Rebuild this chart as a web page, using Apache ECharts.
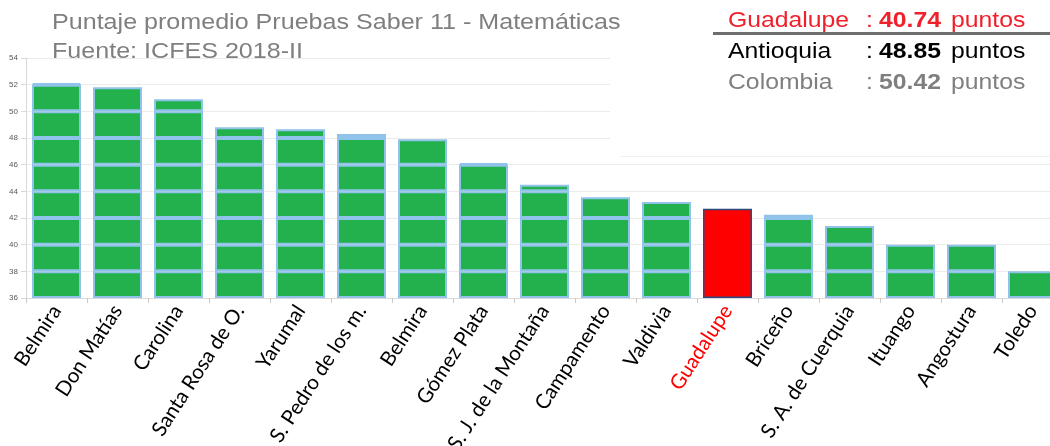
<!DOCTYPE html>
<html>
<head>
<meta charset="utf-8">
<script src="https://cdn.jsdelivr.net/npm/echarts@6/dist/echarts.min.js"></script>
<style>
  html, body { margin: 0; padding: 0; background: #fff; }
  #chart { width: 1050px; height: 446px; }
</style>
</head>
<body>
<div id="chart"></div>
<script>
// Municipalities ordered by average math score
const categories = ['Belmira', 'Don Matías', 'Carolina', 'Santa Rosa de O.', 'Yarumal',
  'S. Pedro de los m.', 'Belmira', 'Gómez Plata', 'S. J. de la Montaña', 'Campamento',
  'Valdivia', 'Guadalupe', 'Briceño', 'S. A. de Cuerquia', 'Ituango', 'Angostura', 'Toledo'];
const scores = [52.1, 51.8, 50.9, 48.8, 48.65, 48.3, 47.9, 46.1, 44.5, 43.55,
  43.2, 42.7, 42.25, 41.4, 40.0, 40.0, 38.0];
const highlightName = 'Guadalupe';

// Value axis ticks
const yTicks = [36, 38, 40, 42, 44, 46, 48, 50, 52, 54];

// Summary box
const titleLines = ['Puntaje promedio Pruebas Saber 11 - Matemáticas', 'Fuente: ICFES 2018-II'];
const summaryNames = ['Guadalupe', 'Antioquia', 'Colombia'];
const summaryScores = ['40.74', '48.85', '50.42'];
const summaryUnit = 'puntos';

const AXIS_MIN = yTicks[0];
const AXIS_MAX = yTicks[yTicks.length - 1];
const STEP = yTicks[1] - yTicks[0];
const hiIndex = categories.indexOf(highlightName);

const GREEN = '#22b14c';
const EDGE = '#8fc3ea';
const RED = '#ff0000';

// Each bar is built from blocks of one tick step, stacked on the axis floor
const series = [{
  type: 'bar', stack: 'score', silent: true,
  itemStyle: { color: 'rgba(0,0,0,0)' },
  data: scores.map(() => AXIS_MIN)
}];
const blockCount = (AXIS_MAX - AXIS_MIN) / STEP;
for (let k = 0; k < blockCount; k++) {
  const lo = AXIS_MIN + k * STEP;
  series.push({
    type: 'bar', stack: 'score',
    barWidth: 49,
    itemStyle: { color: GREEN, borderColor: EDGE, borderWidth: 2 },
    data: scores.map((v, i) => {
      if (i === hiIndex) {
        return k === 0
          ? { value: v - AXIS_MIN, itemStyle: { color: RED, borderColor: '#2e4a7d', borderWidth: 1.5 } }
          : '-';
      }
      return v > lo + 1e-9 ? Math.min(STEP, v - lo) : '-';
    })
  });
}

// Title and summary panel
const TXT_SCALE = 1.115;
const graphic = [
  { type: 'rect', z: 1, shape: { x: 610, y: -2, width: 460, height: 158 },
    style: { fill: '#fff' } },
  { type: 'line', z: 1, shape: { x1: 620, y1: 156.5, x2: 1050, y2: 156.5 },
    style: { stroke: '#f0f0f0', lineWidth: 1 } },
  { type: 'line', z: 5, shape: { x1: 713, y1: 33.5, x2: 1050, y2: 33.5 },
    style: { stroke: '#6e6e6e', lineWidth: 3 } }
];
titleLines.forEach((t, i) => {
  graphic.push({ type: 'text', z: 10, x: 52, y: 22.5 + i * 29, scaleX: TXT_SCALE,
    style: { text: t, font: '22.5px "Liberation Sans", Arial, sans-serif', fill: '#7f7f7f',
      align: 'left', verticalAlign: 'middle' } });
});
const summaryColors = ['#f0202a', '#000000', '#7f7f7f'];
summaryNames.forEach((name, i) => {
  const y = 20.5 + i * 31.2;
  const fill = summaryColors[i];
  const base = '22.5px "Liberation Sans", Arial, sans-serif';
  const bold = 'bold 22.5px "Liberation Sans", Arial, sans-serif';
  [[728, name, base], [866, ':', base], [879, summaryScores[i], bold], [951, summaryUnit, base]]
    .forEach(([x, text, font]) => {
      graphic.push({ type: 'text', z: 10, x: x, y: y, scaleX: 1.1,
        style: { text: text, font: font, fill: fill, align: 'left', verticalAlign: 'middle' } });
    });
});

const LABEL_FONT = 'Lato, "Open Sans", sans-serif';
const chart = echarts.init(document.getElementById('chart'), null, { renderer: 'canvas' });
chart.setOption({
  animation: false,
  backgroundColor: '#fff',
  grid: { left: 26, right: -13, top: 58, bottom: 148, containLabel: false, outerBoundsMode: 'none' },
  xAxis: {
    type: 'category',
    data: categories,
    axisLine: { lineStyle: { color: '#d9d9d9', width: 1 } },
    axisTick: { show: true, length: 5, lineStyle: { color: '#c8c8c8' } },
    axisLabel: {
      interval: 0, rotate: 57, margin: 9,
      fontFamily: LABEL_FONT, fontSize: 20.5, color: '#000',
      formatter: (v) => v === highlightName ? '{hi|' + v + '}' : v,
      rich: { hi: { color: RED, fontFamily: LABEL_FONT, fontSize: 20.5 } }
    }
  },
  yAxis: {
    type: 'value',
    min: AXIS_MIN, max: AXIS_MAX, interval: STEP,
    axisLine: { show: true, lineStyle: { color: '#d9d9d9' } },
    axisTick: { show: true, length: 5, lineStyle: { color: '#d9d9d9' } },
    axisLabel: { fontSize: 8, color: '#595959', margin: 8, fontFamily: '"Liberation Sans", Arial, sans-serif' },
    splitLine: { lineStyle: { color: '#ebebeb', width: 1 } }
  },
  series: series,
  graphic: graphic
});
</script>
</body>
</html>
